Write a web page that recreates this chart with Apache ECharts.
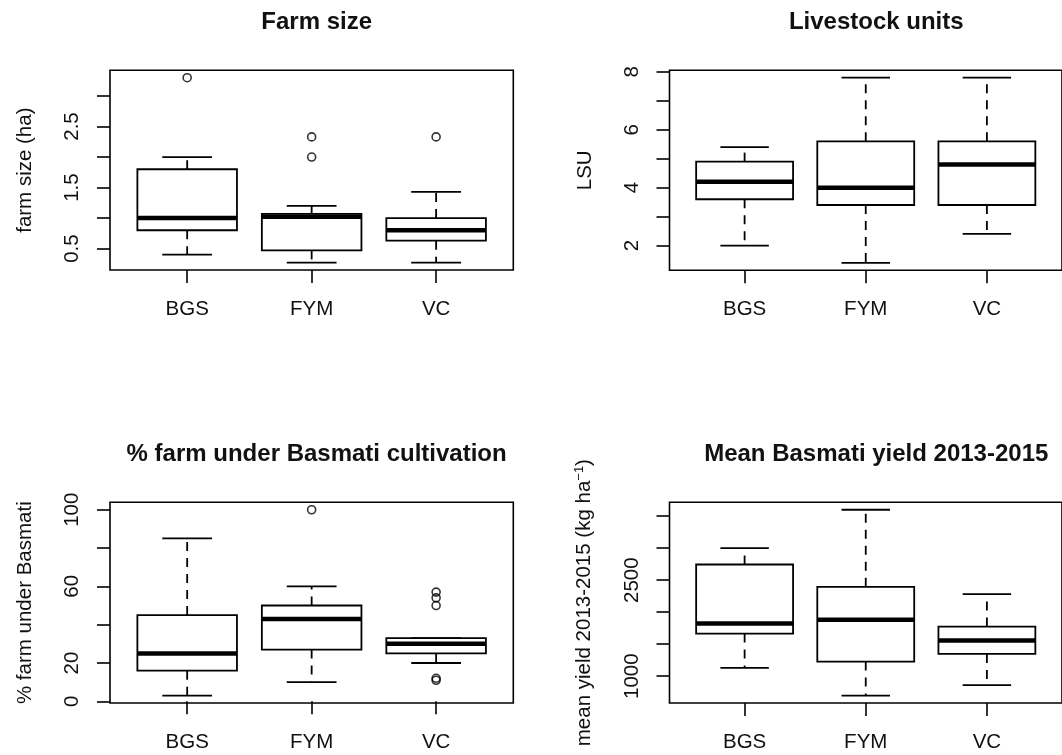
<!DOCTYPE html>
<html>
<head>
<meta charset="utf-8">
<script src="https://cdn.jsdelivr.net/npm/echarts@6/dist/echarts.min.js"></script>
<style>
html,body{margin:0;padding:0;background:#fff;}
#chart{width:1062px;height:755px;}
</style>
</head>
<body>
<div id="chart"></div>
<script>
// ---- data (box stats: [lower whisker, Q1, median, Q3, upper whisker]) ----
const categories = ['BGS', 'FYM', 'VC'];

const farmSizeStats = [
  [0.40, 0.80, 1.00, 1.80, 2.00],
  [0.27, 0.47, 1.02, 1.07, 1.20],
  [0.27, 0.63, 0.80, 1.00, 1.43]
];
const farmSizeOutliers = [[3.30], [2.00, 2.33], [2.33]];
const farmSizeTicks = [0.5, 1.0, 1.5, 2.0, 2.5, 3.0];
const farmSizeTickLabels = [0.5, 1.5, 2.5];

const lsuStats = [
  [2.0, 3.6, 4.2, 4.9, 5.4],
  [1.4, 3.4, 4.0, 5.6, 7.8],
  [2.4, 3.4, 4.8, 5.6, 7.8]
];
const lsuOutliers = [[], [], []];
const lsuTicks = [2, 3, 4, 5, 6, 7, 8];
const lsuTickLabels = [2, 4, 6, 8];

const basmatiShareStats = [
  [3, 16, 25, 45, 85],
  [10, 27, 43, 50, 60],
  [20, 25, 30, 33, 33]
];
const basmatiShareOutliers = [[], [100], [50, 54, 57, 11, 12]];
const basmatiShareTicks = [0, 20, 40, 60, 80, 100];
const basmatiShareTickLabels = [0, 20, 60, 100];

const yieldStats = [
  [1130, 1666, 1822, 2744, 3000],
  [698, 1228, 1880, 2395, 3599],
  [860, 1348, 1556, 1775, 2281]
];
const yieldOutliers = [[], [], []];
const yieldTicks = [1000, 1500, 2000, 2500, 3000, 3500];
const yieldTickLabels = [1000, 2500];

// ---- layout ----
const FONT = '"Liberation Sans", Arial, Helvetica, sans-serif';
const panels = [
  {title: 'Farm size', yName: 'farm size (ha)', stats: farmSizeStats, out: farmSizeOutliers,
   ticks: farmSizeTicks, labels: farmSizeTickLabels, grid: {left: 110, top: 70.3, width: 403.3, height: 199.7}},
  {title: 'Livestock units', yName: 'LSU', stats: lsuStats, out: lsuOutliers,
   ticks: lsuTicks, labels: lsuTickLabels, grid: {left: 669.5, top: 70.3, width: 403.5, height: 200}},
  {title: '% farm under Basmati cultivation', yName: '% farm under Basmati', stats: basmatiShareStats, out: basmatiShareOutliers,
   ticks: basmatiShareTicks, labels: basmatiShareTickLabels, grid: {left: 110, top: 502.3, width: 403.3, height: 200.7}},
  {title: 'Mean Basmati yield 2013-2015', yName: '{n|mean yield 2013-2015 (kg ha}{s|\u22121}{n|)}', stats: yieldStats, out: yieldOutliers,
   ticks: yieldTicks, labels: yieldTickLabels, grid: {left: 669.5, top: 502.3, width: 403.5, height: 200.7}}
];

// R-style axis extension (4%)
function extent(stats, out) {
  let lo = Infinity, hi = -Infinity;
  stats.forEach(s => { lo = Math.min(lo, s[0]); hi = Math.max(hi, s[4]); });
  out.forEach(o => o.forEach(v => { lo = Math.min(lo, v); hi = Math.max(hi, v); }));
  const pad = (hi - lo) * 0.04;
  return [lo - pad, hi + pad];
}
const xMin = 0.5 - categories.length * 0.04;
const xMax = categories.length + 0.5 + categories.length * 0.04;

const option = {
  animation: false,
  backgroundColor: '#fff',
  title: [], grid: [], xAxis: [], yAxis: [], series: []
};

panels.forEach((p, i) => {
  const g = p.grid;
  option.grid.push({left: g.left, top: g.top, width: g.width, height: g.height,
    show: true, borderColor: '#000', borderWidth: 1.6, backgroundColor: 'transparent', containLabel: false});
  option.title.push({
    text: p.title, left: g.left + g.width / 2, top: g.top - 64.5, textAlign: 'center',
    textStyle: {fontFamily: FONT, fontWeight: 'bold', fontSize: 24, color: '#111'}
  });
  const ext = extent(p.stats, p.out);
  option.xAxis.push({
    type: 'value', gridIndex: i, min: xMin, max: xMax,
    axisLine: {show: false}, splitLine: {show: false},
    axisTick: {show: true, customValues: [1, 2, 3], length: 13, lineStyle: {color: '#000', width: 1.6}},
    axisLabel: {show: true, customValues: [1, 2, 3], margin: 29,
      formatter: v => categories[Math.round(v) - 1] || '',
      fontFamily: FONT, fontSize: 20.5, color: '#111'}
  });
  option.yAxis.push({
    type: 'value', gridIndex: i, min: ext[0], max: ext[1],
    axisLine: {show: false}, splitLine: {show: false},
    axisTick: {show: true, customValues: p.ticks, length: 13, lineStyle: {color: '#000', width: 1.6}},
    axisLabel: {show: true, customValues: p.labels, rotate: 90, margin: 27,
      formatter: v => String(v),
      fontFamily: FONT, fontSize: 20.5, color: '#111'},
    name: p.yName, nameLocation: 'middle', nameRotate: 90, nameGap: 74,
    nameTextStyle: {fontFamily: FONT, fontSize: 20.5, color: '#111',
      rich: {n: {fontFamily: FONT, fontSize: 20.5, color: '#111'},
             s: {fontFamily: FONT, fontSize: 13, color: '#111', verticalAlign: 'top', padding: [0, 0, 10, 0]}}}
  });
  const boxData = p.stats.map((s, k) => [k + 1].concat(s));
  option.series.push({
    type: 'custom', xAxisIndex: i, yAxisIndex: i, data: boxData, clip: false,
    renderItem: function (params, api) {
      const x = api.value(0);
      const lo = api.value(1), q1 = api.value(2), med = api.value(3), q3 = api.value(4), hi = api.value(5);
      const c = (a, b) => api.coord([a, b]);
      const bl = c(x - 0.4, q1), tr = c(x + 0.4, q3);
      const stroke = {stroke: '#000', lineWidth: 1.8};
      const dashed = {stroke: '#000', lineWidth: 1.8, lineDash: [9, 7]};
      const line = (a, b, st) => ({type: 'line', shape: {x1: a[0], y1: a[1], x2: b[0], y2: b[1]}, style: st});
      return {type: 'group', children: [
        line(c(x, q3), c(x, hi), dashed),
        line(c(x, q1), c(x, lo), dashed),
        line(c(x - 0.2, hi), c(x + 0.2, hi), stroke),
        line(c(x - 0.2, lo), c(x + 0.2, lo), stroke),
        {type: 'rect', shape: {x: bl[0], y: tr[1], width: tr[0] - bl[0], height: bl[1] - tr[1]},
         style: {fill: '#fff', stroke: '#000', lineWidth: 1.8}},
        line(c(x - 0.4, med), c(x + 0.4, med), {stroke: '#000', lineWidth: 4.5})
      ]};
    }
  });
  const outData = [];
  p.out.forEach((o, k) => o.forEach(v => outData.push([k + 1, v])));
  option.series.push({
    type: 'scatter', xAxisIndex: i, yAxisIndex: i, data: outData,
    symbol: 'circle', symbolSize: 8, z: 5,
    itemStyle: {color: 'rgba(0,0,0,0)', borderColor: '#000', borderWidth: 1.6}
  });
});

const chart = echarts.init(document.getElementById('chart'), null, {renderer: 'canvas'});
chart.setOption(option);
</script>
</body>
</html>
